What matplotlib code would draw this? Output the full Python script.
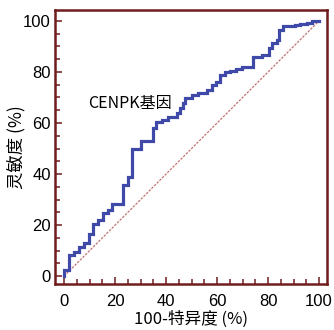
import matplotlib
matplotlib.use("Agg")
import matplotlib.pyplot as plt

plt.rcParams["font.family"] = ["Liberation Sans", "Noto Sans CJK SC", "DejaVu Sans"]

# ROC curve corner points (100-specificity, sensitivity), in %
fpr = [0, 0, 2, 4, 5.9, 8, 9.8, 11.5, 13.5, 15.4, 17.1, 19, 23.3, 25, 26.8,
       30.3, 35, 36, 38.3, 40.8, 44.2, 45.5, 46.5, 47.5, 50, 52.4, 56, 57.9,
       59.6, 61.2, 63.1, 65.1, 67.5, 69.7, 74, 77.5, 80.5, 81.4, 83.4, 84.3,
       86, 90.6, 92.5, 95.2, 97.1, 100]
tpr = [0, 2.6, 8.5, 9.5, 11.5, 13, 16.7, 20.6, 22, 24.6, 25.9, 28.2, 35.7, 39,
       50, 53, 58, 60.3, 61.3, 62.4, 64, 65.8, 67.7, 69.7, 71, 71.9, 72.9,
       74.9, 76, 78.8, 79.9, 80.4, 81, 81.8, 86, 86.7, 89.3, 91.2, 92.5, 96.5,
       98, 98.4, 98.8, 99.3, 100, 100]
ref_line = [0, 100]

label = "CENPK基因"
xlabel = "100-特异度 (%)"
ylabel = "灵敏度 (%)"

frame_color = "#6e1c1c"
cjk = ["Noto Sans CJK SC", "DejaVu Sans"]

fig = plt.figure(figsize=(3.34, 3.30), dpi=100)
ax = fig.add_axes([0.165, 0.139, 0.814, 0.831])

ax.plot(ref_line, ref_line, color="#c47474", linewidth=0.9, linestyle=(0, (2, 1)))
ax.plot(fpr, tpr, drawstyle="steps-post", color="#3f4aa8", linewidth=2.3,
        solid_joinstyle="miter")

ax.text(9.3, 67.8, label, fontsize=11.5, va="center", ha="left", family=cjk)

ax.set_xlim(-3.5, 103.1)
ax.set_ylim(-3.1, 104.3)
ax.set_xticks(range(0, 101, 20))
ax.set_yticks(range(0, 101, 20))
ax.set_xticks(range(0, 101, 5), minor=True)
ax.set_yticks(range(0, 101, 5), minor=True)

for spine in ax.spines.values():
    spine.set_color(frame_color)
    spine.set_linewidth(1.8)

ax.tick_params(which="both", direction="in", color=frame_color, width=1.1,
               labelsize=12, labelcolor="black")
ax.tick_params(which="major", length=5)
ax.tick_params(which="minor", length=3.5)
ax.tick_params(axis="x", pad=7)
ax.tick_params(axis="y", pad=3)

ax.set_xlabel(xlabel, fontsize=12, family=cjk, labelpad=1)
ax.set_ylabel(ylabel, fontsize=12.5, family=cjk)
ax.yaxis.set_label_coords(-0.105, 0.5)

fig.savefig("out.png", dpi=100)
plt.close(fig)
